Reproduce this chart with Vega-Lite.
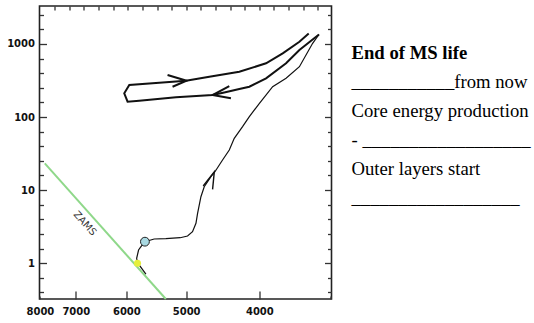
{
  "$schema": "https://vega.github.io/schema/vega-lite/v6.json",
  "padding": {"left": 5.5, "top": 4, "right": 0, "bottom": 0},
  "background": "white",
  "config": {
    "view": {"stroke": null},
    "axis": {"labelFont": "DejaVu Sans", "labelFontSize": 10, "labelFontWeight": "bold", "labelColor": "#111", "tickColor": "#333", "tickWidth": 1.3, "domain": false, "grid": false, "title": null}
  },
  "datasets": {
    "lines": [
      {"s": "zams", "i": 1, "T": 7695, "L": 23.26},
      {"s": "zams", "i": 2, "T": 5320, "L": 0.324},
      {"s": "track", "i": 1, "T": 5653, "L": 0.711},
      {"s": "track", "i": 2, "T": 5800, "L": 1.016},
      {"s": "track", "i": 3, "T": 5815, "L": 1.167},
      {"s": "track", "i": 4, "T": 5781, "L": 1.516},
      {"s": "track", "i": 5, "T": 5739, "L": 1.682},
      {"s": "track", "i": 6, "T": 5670, "L": 1.968},
      {"s": "track", "i": 7, "T": 5513, "L": 2.143},
      {"s": "track", "i": 8, "T": 5319, "L": 2.164},
      {"s": "track", "i": 9, "T": 5092, "L": 2.233},
      {"s": "track", "i": 10, "T": 4979, "L": 2.356},
      {"s": "track", "i": 11, "T": 4904, "L": 2.697},
      {"s": "track", "i": 12, "T": 4853, "L": 3.514},
      {"s": "track", "i": 13, "T": 4829, "L": 4.816},
      {"s": "track", "i": 14, "T": 4780, "L": 8.123},
      {"s": "track", "i": 15, "T": 4732, "L": 11.13},
      {"s": "track", "i": 16, "T": 4636, "L": 15.25},
      {"s": "track", "i": 17, "T": 4580, "L": 17.85},
      {"s": "track", "i": 18, "T": 4475, "L": 25.81},
      {"s": "track", "i": 19, "T": 4384, "L": 35.37},
      {"s": "track", "i": 20, "T": 4318, "L": 51.12},
      {"s": "track", "i": 21, "T": 4210, "L": 73.7},
      {"s": "track", "i": 22, "T": 4124, "L": 101.0},
      {"s": "track", "i": 23, "T": 3999, "L": 154.0},
      {"s": "track", "i": 24, "T": 3841, "L": 259.7},
      {"s": "track", "i": 25, "T": 3687, "L": 338.3},
      {"s": "track", "i": 26, "T": 3540, "L": 487.7},
      {"s": "track", "i": 27, "T": 3400, "L": 1019},
      {"s": "track", "i": 28, "T": 3335, "L": 1345},
      {"s": "loop", "i": 1, "T": 3335, "L": 1345},
      {"s": "loop", "i": 2, "T": 3540, "L": 825},
      {"s": "loop", "i": 3, "T": 3687, "L": 542.8},
      {"s": "loop", "i": 4, "T": 3919, "L": 338.3},
      {"s": "loop", "i": 5, "T": 4124, "L": 259.7},
      {"s": "loop", "i": 6, "T": 4252, "L": 241.5},
      {"s": "loop", "i": 7, "T": 4452, "L": 216.4},
      {"s": "loop", "i": 8, "T": 4613, "L": 200.0},
      {"s": "loop", "i": 9, "T": 5158, "L": 186.0},
      {"s": "loop", "i": 10, "T": 5769, "L": 167.1},
      {"s": "loop", "i": 11, "T": 5978, "L": 161.9},
      {"s": "loop", "i": 12, "T": 6039, "L": 211.0},
      {"s": "loop", "i": 13, "T": 5947, "L": 274.1},
      {"s": "loop", "i": 14, "T": 5427, "L": 294.6},
      {"s": "loop", "i": 15, "T": 5003, "L": 313.7},
      {"s": "loop", "i": 16, "T": 4659, "L": 355.8},
      {"s": "loop", "i": 17, "T": 4252, "L": 416.6},
      {"s": "loop", "i": 18, "T": 3919, "L": 542.8},
      {"s": "loop", "i": 19, "T": 3725, "L": 743.5},
      {"s": "loop", "i": 20, "T": 3540, "L": 1072},
      {"s": "loop", "i": 21, "T": 3441, "L": 1388},
      {"s": "arrowA", "i": 1, "T": 5292, "L": 375.4},
      {"s": "arrowA", "i": 2, "T": 4994, "L": 313.7},
      {"s": "arrowA", "i": 3, "T": 5212, "L": 259.7},
      {"s": "arrowB", "i": 1, "T": 4384, "L": 265.5},
      {"s": "arrowB", "i": 2, "T": 4613, "L": 200.0},
      {"s": "arrowB", "i": 3, "T": 4362, "L": 180.3},
      {"s": "arrowC", "i": 1, "T": 4747, "L": 11.38},
      {"s": "arrowC", "i": 2, "T": 4589, "L": 17.85},
      {"s": "arrowC", "i": 3, "T": 4613, "L": 10.25}
    ],
    "dots": [
      {"kind": "zams", "T": 5800, "L": 1.0},
      {"kind": "now", "T": 5670, "L": 1.97}
    ],
    "labels": [
      {"text": "ZAMS", "T": 6810, "L": 3.5}
    ],
    "notes": [
      {"line": 1, "text": "End of MS life"},
      {"line": 2, "text": "___________from now"},
      {"line": 3, "text": "Core energy production"},
      {"line": 4, "text": "- __________________"},
      {"line": 5, "text": "Outer layers start"},
      {"line": 6, "text": "__________________"}
    ]
  },
  "spacing": 18,
  "hconcat": [
    {
      "width": 292,
      "height": 293,
      "view": {"stroke": "#222", "strokeWidth": 1.6},
      "resolve": {"axis": {"x": "independent", "y": "independent"}},
      "layer": [
        {
          "data": {"name": "lines"},
          "transform": [{"filter": "datum.s == 'zams'"}],
          "mark": {"type": "line", "color": "#8fd88a", "strokeWidth": 2},
          "encoding": {
            "x": {"field": "T", "type": "quantitative",
              "scale": {"type": "log", "domain": [3210, 7820], "reverse": true, "nice": false},
              "axis": {"orient": "bottom", "values": [7810, 7000, 6000, 5000, 4000, 3215],
                "labelExpr": "datum.value > 7500 ? '8000' : (datum.value < 3500 ? '' : format(datum.value, 'd'))",
                "labelFlush": false, "labelOverlap": false, "labelBound": false,
                "labelPadding": {"condition": {"test": "datum.value > 7500 || datum.value < 3500", "value": 10}, "value": 15},
                "tickSize": {"condition": {"test": "datum.value > 7500 || datum.value < 3500", "value": -3}, "value": -8}}},
            "y": {"field": "L", "type": "quantitative",
              "scale": {"type": "log", "domain": [0.324, 3300], "nice": false},
              "axis": {"orient": "left",
                "values": [0.398, 0.631, 1, 1.585, 2.512, 3.981, 6.31, 10, 15.85, 25.12, 39.81, 63.1, 100, 158.5, 251.2, 398.1, 631, 1000, 1585, 2512],
                "labelExpr": "(datum.value == 1 || datum.value == 10 || datum.value == 100 || datum.value == 1000) ? format(datum.value, 'd') : ''",
                "labelOverlap": false,
                "labelPadding": {"condition": {"test": "datum.value == 1 || datum.value == 10 || datum.value == 100 || datum.value == 1000", "value": 12}, "value": 9},
                "tickSize": {"condition": {"test": "datum.value == 1 || datum.value == 10 || datum.value == 100 || datum.value == 1000", "value": -7}, "value": -4}}},
            "order": {"field": "i"}
          }
        },
        {
          "data": {"name": "lines"},
          "transform": [{"filter": "datum.s == 'track'"}],
          "mark": {"type": "line", "color": "#111", "strokeWidth": 1.2},
          "encoding": {
            "x": {"field": "T", "type": "quantitative",
              "axis": {"orient": "top", "labels": false, "tickSize": -4,
                "values": [3347, 3499, 3659, 3826, 4000, 4182, 4373, 4573, 4781, 4999, 5227, 5465, 5714, 5975, 6247, 6532, 6829, 7141, 7466]}},
            "y": {"field": "L", "type": "quantitative",
              "axis": {"orient": "right", "labels": false,
                "values": [0.398, 0.631, 1, 1.585, 2.512, 3.981, 6.31, 10, 15.85, 25.12, 39.81, 63.1, 100, 158.5, 251.2, 398.1, 631, 1000, 1585, 2512],
                "tickSize": {"condition": {"test": "datum.value == 1 || datum.value == 10 || datum.value == 100 || datum.value == 1000", "value": -7}, "value": -4}}},
            "order": {"field": "i"}
          }
        },
        {
          "data": {"name": "lines"},
          "transform": [{"filter": "datum.s == 'loop' || datum.s == 'arrowA' || datum.s == 'arrowB'"}],
          "mark": {"type": "line", "color": "#111", "strokeWidth": 2},
          "encoding": {
            "x": {"field": "T", "type": "quantitative", "axis": null},
            "y": {"field": "L", "type": "quantitative", "axis": null},
            "detail": {"field": "s"},
            "order": {"field": "i"}
          }
        },
        {
          "data": {"name": "lines"},
          "transform": [{"filter": "datum.s == 'arrowC'"}],
          "mark": {"type": "line", "color": "#111", "strokeWidth": 1.4},
          "encoding": {
            "x": {"field": "T", "type": "quantitative", "axis": null},
            "y": {"field": "L", "type": "quantitative", "axis": null},
            "order": {"field": "i"}
          }
        },
        {
          "data": {"name": "dots"},
          "transform": [{"filter": "datum.kind == 'zams'"}],
          "mark": {"type": "circle", "color": "#e6ef3c", "size": 50, "opacity": 1},
          "encoding": {
            "x": {"field": "T", "type": "quantitative", "axis": null},
            "y": {"field": "L", "type": "quantitative", "axis": null}
          }
        },
        {
          "data": {"name": "dots"},
          "transform": [{"filter": "datum.kind == 'now'"}],
          "mark": {"type": "circle", "fill": "#a9d9e2", "stroke": "#222", "strokeWidth": 1, "size": 78, "opacity": 1},
          "encoding": {
            "x": {"field": "T", "type": "quantitative", "axis": null},
            "y": {"field": "L", "type": "quantitative", "axis": null}
          }
        },
        {
          "data": {"name": "labels"},
          "mark": {"type": "text", "font": "DejaVu Sans", "fontSize": 10, "angle": 48, "color": "#333", "align": "center", "baseline": "middle"},
          "encoding": {
            "x": {"field": "T", "type": "quantitative", "axis": null},
            "y": {"field": "L", "type": "quantitative", "axis": null},
            "text": {"field": "text"}
          }
        }
      ]
    },
    {
      "width": 181,
      "height": 246,
      "data": {"name": "notes"},
      "layer": [
        {
          "transform": [{"filter": "datum.line == 1"}],
          "mark": {"type": "text", "align": "left", "baseline": "alphabetic", "font": "Liberation Serif", "fontSize": 18.7, "fontWeight": "bold", "color": "#000"},
          "encoding": {
            "y": {"field": "line", "type": "quantitative", "axis": null, "scale": {"domain": [-0.8276, 7.655], "reverse": true, "zero": false, "nice": false}},
            "x": {"value": 0},
            "text": {"field": "text"}
          }
        },
        {
          "transform": [{"filter": "datum.line > 1"}],
          "mark": {"type": "text", "align": "left", "baseline": "alphabetic", "font": "Liberation Serif", "fontSize": 18.7, "color": "#000"},
          "encoding": {
            "y": {"field": "line", "type": "quantitative", "axis": null},
            "x": {"value": 0},
            "text": {"field": "text"}
          }
        }
      ]
    }
  ]
}
